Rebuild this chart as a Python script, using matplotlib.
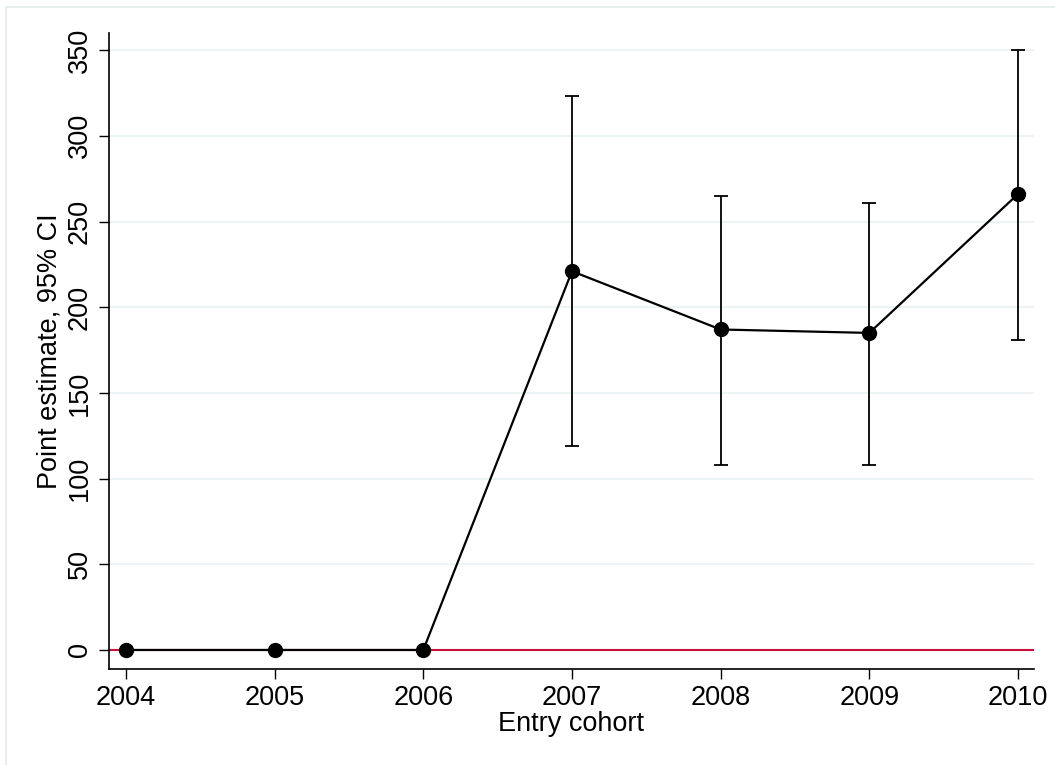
import matplotlib
matplotlib.use("Agg")
import matplotlib.pyplot as plt
from matplotlib.lines import Line2D

cohorts = [2004, 2005, 2006, 2007, 2008, 2009, 2010]
estimates = [0, 0, 0, 221, 187, 185, 266]
ci_low = [0, 0, 0, 119, 108, 108, 181]
ci_high = [0, 0, 0, 323, 265, 261, 350]
yticks = [0, 50, 100, 150, 200, 250, 300, 350]

plt.rcParams['font.family'] = ['Liberation Sans', 'DejaVu Sans']

W, H = 1055, 765
fig = plt.figure(figsize=(W / 100, H / 100), dpi=100)
fig.patch.set_facecolor('white')

# plot area in pixels
L, R, T, B = 109, 1034, 33, 669
ax = fig.add_axes([L / W, 1 - B / H, (R - L) / W, (B - T) / H])

# outer frame fragments (left and top)
fig.add_artist(Line2D([6 / W, 6 / W], [0, 1 - 7 / H], transform=fig.transFigure,
                      color='#e6eeee', lw=1.5))
fig.add_artist(Line2D([6 / W, 1], [1 - 7 / H, 1 - 7 / H], transform=fig.transFigure,
                      color='#e6eeee', lw=1.5))

ax.set_xlim(2003.886, 2010.108)
ax.set_ylim(-11.1, 360)

for yv in yticks:
    ax.axhline(yv, color='#eaf2f3', lw=1.2, zorder=0)
ax.axhline(0, color='#c8103c', lw=1.5, zorder=1)

yerr = [[e - l for e, l in zip(estimates, ci_low)], [h - e for e, h in zip(estimates, ci_high)]]
ax.errorbar(cohorts, estimates, yerr=yerr, fmt='none', ecolor='black', elinewidth=1.3,
            capsize=5, capthick=1.3, zorder=2)
ax.plot(cohorts, estimates, color='black', lw=1.6, zorder=3)
ax.plot(cohorts, estimates, 'o', color='black', markersize=10, zorder=4)

ax.spines['top'].set_visible(False)
ax.spines['right'].set_visible(False)
for s in ('left', 'bottom'):
    ax.spines[s].set_linewidth(1.2)

ax.set_xticks(cohorts)
ax.set_xticklabels([str(c) for c in cohorts])
ax.set_yticks(yticks)
ax.set_yticklabels([str(v) for v in yticks], rotation=90, va='center')
ax.tick_params(axis='both', direction='out', length=7.5, width=1.0, labelsize=19.5, pad=4)

ax.set_xlabel('Entry cohort', fontsize=19.5, labelpad=0)
ax.set_ylabel('Point estimate, 95% CI', fontsize=19.5, labelpad=3)

fig.savefig('out.png', dpi=100, facecolor='white')
